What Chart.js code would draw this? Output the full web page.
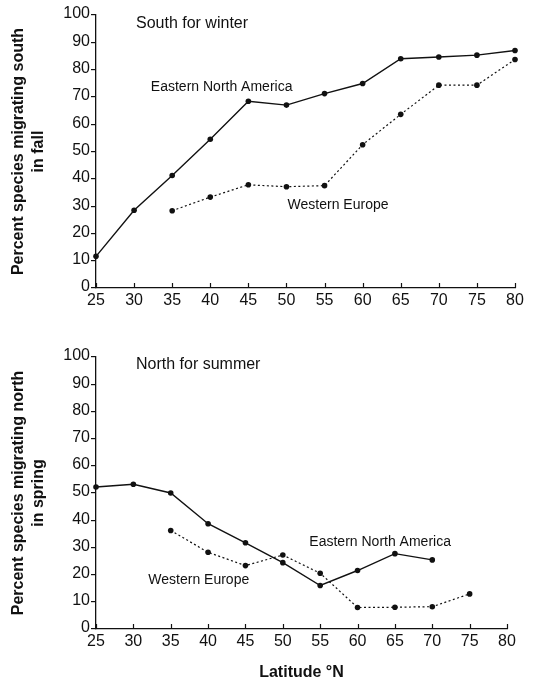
<!DOCTYPE html>
<html>
<head>
<meta charset="utf-8">
<script src="https://cdn.jsdelivr.net/npm/chart.js@4/dist/chart.umd.min.js"></script>
<style>
  html, body { margin: 0; padding: 0; background: #fff; }
  #wrap { position: relative; width: 533px; height: 682px; overflow: hidden; }
  #wrap canvas { position: absolute; left: 0; }
  #c1 { top: 0; }
  #c2 { top: 342px; }
</style>
</head>
<body>
<div id="wrap">
  <canvas id="c1" width="533" height="320"></canvas>
  <canvas id="c2" width="533" height="340"></canvas>
</div>
<script>
// ---- data ----
const latTicks = [25, 30, 35, 40, 45, 50, 55, 60, 65, 70, 75, 80];
const pctTicks = [0, 10, 20, 30, 40, 50, 60, 70, 80, 90, 100];

// Fall: percent species migrating south
const fallEnaLat = [25, 30, 35, 40, 45, 50, 55, 60, 65, 70, 75, 80];
const fallEnaPct = [11.6, 28.5, 41.2, 54.5, 68.4, 67.0, 71.2, 74.9, 84.0, 84.6, 85.3, 87.0];
const fallWeLat  = [35, 40, 45, 50, 55, 60, 65, 70, 75, 80];
const fallWePct  = [28.3, 33.3, 37.8, 37.1, 37.5, 52.5, 63.6, 74.3, 74.3, 83.7];

// Spring: percent species migrating north
const springEnaLat = [25, 30, 35, 40, 45, 50, 55, 60, 65, 70];
const springEnaPct = [52.2, 53.2, 50.0, 38.7, 31.7, 24.4, 16.0, 21.5, 27.7, 25.4];
const springWeLat  = [35, 40, 45, 50, 55, 60, 65, 70, 75];
const springWePct  = [36.2, 28.2, 23.3, 27.2, 20.5, 7.9, 8.0, 8.2, 12.9];

const seriesNames = ['Eastern North America', 'Western Europe'];
const panelTitles = ['South for winter', 'North for summer'];
const yTitles = [
  ['Percent species migrating south', 'in fall'],
  ['Percent species migrating north', 'in spring']
];
const xTitle = 'Latitude \u00B0N';

// ---- styling / layout (not data) ----
const FONT = '"Liberation Sans", Arial, Helvetica, sans-serif';
const INK = '#111';

function pairs(xs, ys) { return xs.map((x, i) => ({ x: x, y: ys[i] })); }

// text annotations placed in data coordinates
const notesPlugin = {
  id: 'notes',
  afterDatasetsDraw(chart, args, opts) {
    const ctx = chart.ctx, xs = chart.scales.x, ys = chart.scales.y;
    ctx.save();
    ctx.fillStyle = INK;
    ctx.textAlign = 'left';
    ctx.textBaseline = 'alphabetic';
    (opts.items || []).forEach(n => {
      ctx.font = n.size + 'px ' + FONT;
      ctx.fillText(n.text, xs.getPixelForValue(n.lat), ys.getPixelForValue(n.pct));
    });
    ctx.restore();
  }
};

// inward (upward) tick marks on the x axis
const innerTicksPlugin = {
  id: 'innerTicks',
  afterDraw(chart) {
    const ctx = chart.ctx, xs = chart.scales.x;
    const yb = chart.chartArea.bottom;
    ctx.save();
    ctx.strokeStyle = INK;
    ctx.lineWidth = 1.2;
    xs.ticks.forEach(t => {
      const px = Math.round(xs.getPixelForValue(t.value)) + 0.5;
      ctx.beginPath();
      ctx.moveTo(px, yb);
      ctx.lineTo(px, yb - 5);
      ctx.stroke();
    });
    ctx.restore();
  }
};

function makeChart(id, enaLat, enaPct, weLat, wePct, cfg) {
  return new Chart(document.getElementById(id), {
    type: 'line',
    data: {
      datasets: [
        {
          label: seriesNames[0],
          data: pairs(enaLat, enaPct),
          borderColor: INK, backgroundColor: INK,
          borderWidth: 1.4, pointRadius: 2.8, pointHoverRadius: 2.8,
          pointBorderWidth: 0, tension: 0, clip: 6
        },
        {
          label: seriesNames[1],
          data: pairs(weLat, wePct),
          borderColor: INK, backgroundColor: INK,
          borderWidth: 1.2, borderDash: [2, 2.5], pointRadius: 2.8, pointHoverRadius: 2.8,
          pointBorderWidth: 0, tension: 0, clip: 6
        }
      ]
    },
    options: {
      responsive: false,
      animation: false,
      events: [],
      layout: { padding: { top: 15, right: cfg.padRight, left: 0, bottom: 0 } },
      plugins: {
        legend: { display: false },
        tooltip: { enabled: false },
        notes: { items: cfg.notes }
      },
      scales: {
        x: {
          type: 'linear',
          min: latTicks[0], max: latTicks[latTicks.length - 1],
          afterBuildTicks(s) { s.ticks = latTicks.map(v => ({ value: v })); },
          grid: { display: true, drawOnChartArea: false, drawTicks: false },
          border: { display: true, color: INK, width: 1.3 },
          ticks: { color: INK, font: { family: FONT, size: 16 }, padding: 3, maxRotation: 0, autoSkip: false },
          title: cfg.xTitle ? {
            display: true, text: cfg.xTitle, color: INK,
            font: { family: FONT, size: 16, weight: 'bold', lineHeight: 1.2 },
            padding: { top: 0, bottom: 0 }
          } : { display: false },
          afterFit(s) { s.height = cfg.xHeight; }
        },
        y: {
          type: 'linear',
          min: pctTicks[0], max: pctTicks[pctTicks.length - 1],
          afterBuildTicks(s) { s.ticks = pctTicks.map(v => ({ value: v })); },
          grid: { display: true, drawOnChartArea: false, drawTicks: true, tickLength: 5, color: INK, lineWidth: 1.2 },
          border: { display: true, color: INK, width: 1.3 },
          ticks: { color: INK, font: { family: FONT, size: 16 }, padding: 1, labelOffset: -1 },
          title: {
            display: true, text: cfg.yTitle, color: INK,
            font: { family: FONT, size: 16, weight: 'bold', lineHeight: 1.25 },
            padding: { top: 9, bottom: 0 }
          },
          afterFit(s) { s.width = 96; }
        }
      }
    },
    plugins: [notesPlugin, innerTicksPlugin]
  });
}

makeChart('c1', fallEnaLat, fallEnaPct, fallWeLat, fallWePct, {
  padRight: 18, xHeight: 32, yTitle: yTitles[0], xTitle: null,
  notes: [
    { text: panelTitles[0], lat: 30.25, pct: 95.3, size: 16 },
    { text: seriesNames[0], lat: 32.2, pct: 72.0, size: 14 },
    { text: seriesNames[1], lat: 50.15, pct: 29.0, size: 14 }
  ]
});

makeChart('c2', springEnaLat, springEnaPct, springWeLat, springWePct, {
  padRight: 26, xHeight: 53, yTitle: yTitles[1], xTitle: xTitle,
  notes: [
    { text: panelTitles[1], lat: 30.35, pct: 95.7, size: 16 },
    { text: seriesNames[0], lat: 53.55, pct: 30.6, size: 14 },
    { text: seriesNames[1], lat: 32.0, pct: 16.6, size: 14 }
  ]
});
</script>
</body>
</html>
